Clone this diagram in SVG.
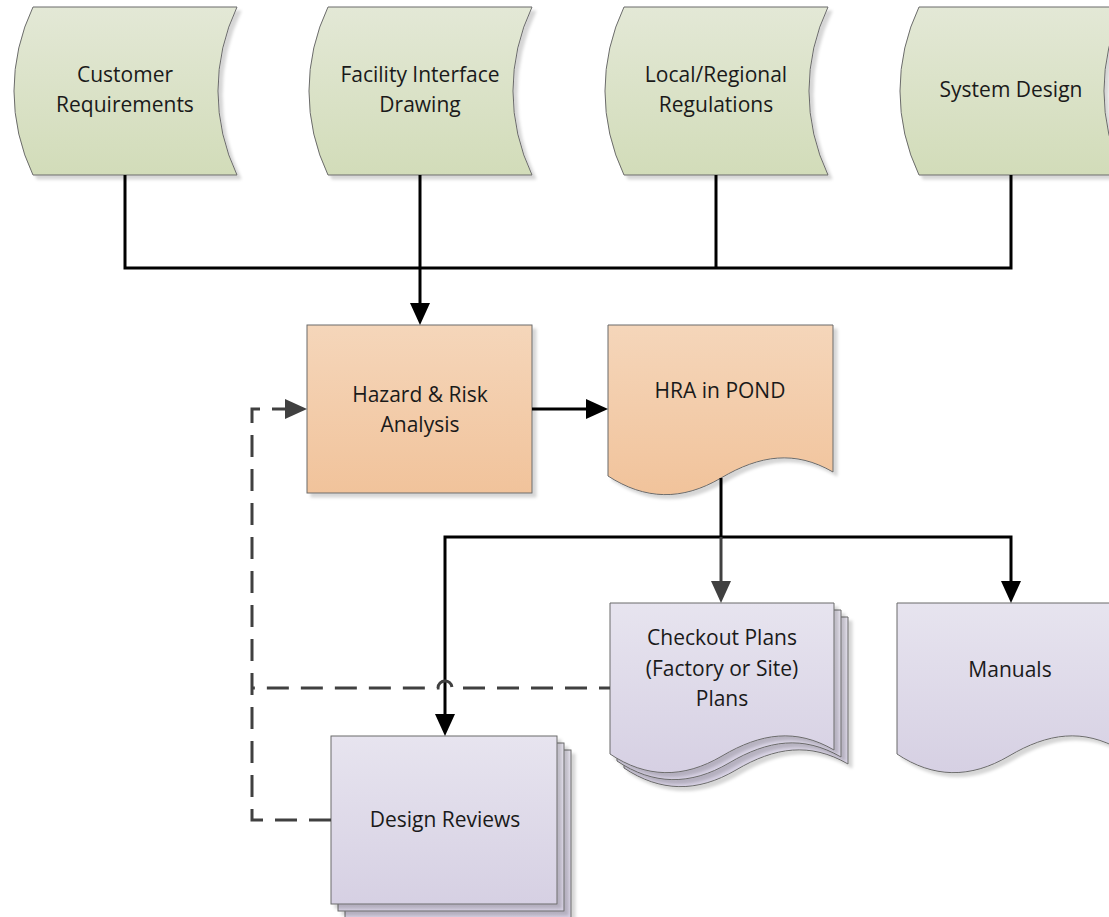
<svg xmlns="http://www.w3.org/2000/svg" width="1109" height="917" viewBox="0 0 1109 917">
  <defs>
    <linearGradient id="gGreen" x1="0" y1="0" x2="0" y2="1">
      <stop offset="0" stop-color="#e3e8d6"/>
      <stop offset="1" stop-color="#d2dcb9"/>
    </linearGradient>
    <linearGradient id="gOrange" x1="0" y1="0" x2="0" y2="1">
      <stop offset="0" stop-color="#f5d6ba"/>
      <stop offset="1" stop-color="#f1c39b"/>
    </linearGradient>
    <linearGradient id="gPurple" x1="0" y1="0" x2="0" y2="1">
      <stop offset="0" stop-color="#e7e4ef"/>
      <stop offset="1" stop-color="#d6d0e3"/>
    </linearGradient>
    <filter id="shadow" x="-10%" y="-10%" width="130%" height="130%">
      <feDropShadow dx="4" dy="4" stdDeviation="1.5" flood-color="#000" flood-opacity="0.16"/>
    </filter>
    <marker id="arrowBlack" markerUnits="userSpaceOnUse" markerWidth="22" markerHeight="20" viewBox="0 0 22 20" refX="16" refY="10" orient="auto">
      <path d="M0,0 L22,10 L0,20 Z" fill="#000"/>
    </marker>
    <marker id="arrowGray" markerUnits="userSpaceOnUse" markerWidth="22" markerHeight="20" viewBox="0 0 22 20" refX="16" refY="10" orient="auto">
      <path d="M0,0 L22,10 L0,20 Z" fill="#404040"/>
    </marker>
  </defs>
  <style>
    .shape { stroke: #6b6b6b; stroke-width: 1; filter: url(#shadow); }
    .green { fill: url(#gGreen); }
    .orange { fill: url(#gOrange); }
    .purple { fill: url(#gPurple); }
    .label { font-family: "Open Sans", "Liberation Sans", sans-serif; font-size: 21px; fill: #1a1a1a; text-anchor: middle; }
    .solid { fill: none; stroke: #000; stroke-width: 3; }
    .solidGray { fill: none; stroke: #404040; stroke-width: 3; }
    .dashed { fill: none; stroke: #404040; stroke-width: 3; stroke-dasharray: 22 12; }
  </style>

  <!-- input data sources -->
  <g id="customer-requirements">
    <path class="shape green" d="M33,7 H237 A195,195 0 0 0 237,175 H33 A195,195 0 0 1 33,7 Z"/>
    <text class="label" x="125" y="82">Customer</text>
    <text class="label" x="125" y="112">Requirements</text>
  </g>
  <g id="facility-interface-drawing">
    <path class="shape green" d="M328,7 H532 A195,195 0 0 0 532,175 H328 A195,195 0 0 1 328,7 Z"/>
    <text class="label" x="420" y="82">Facility Interface</text>
    <text class="label" x="420" y="112">Drawing</text>
  </g>
  <g id="local-regional-regulations">
    <path class="shape green" d="M624,7 H828 A195,195 0 0 0 828,175 H624 A195,195 0 0 1 624,7 Z"/>
    <text class="label" x="716" y="82">Local/Regional</text>
    <text class="label" x="716" y="112">Regulations</text>
  </g>
  <g id="system-design">
    <path class="shape green" d="M919,7 H1123 A195,195 0 0 0 1123,175 H919 A195,195 0 0 1 919,7 Z"/>
    <text class="label" x="1011" y="97">System Design</text>
  </g>

  <!-- analysis -->
  <g id="hazard-risk-analysis">
    <rect class="shape orange" x="307" y="325" width="225" height="168"/>
    <text class="label" x="420" y="402">Hazard &amp; Risk</text>
    <text class="label" x="420" y="432">Analysis</text>
  </g>
  <g id="hra-in-pond">
    <path class="shape orange" d="M608,325 H833 V472 C795,450 760,455 721,478 C682,501 645,500 608,476 Z"/>
    <text class="label" x="720" y="398">HRA in POND</text>
  </g>

  <!-- outputs -->
  <g id="checkout-plans">
    <path class="shape purple" d="M624,617 H848 V764 C810,742 775,747 736,770 C697,793 660,792 624,768 Z"/>
    <path class="shape purple" d="M617,610 H841 V757 C803,735 768,740 729,763 C690,786 653,785 617,761 Z"/>
    <path class="shape purple" d="M610,603 H834 V750 C796,728 761,733 722,756 C683,779 646,778 610,754 Z"/>
    <text class="label" x="722" y="645">Checkout Plans</text>
    <text class="label" x="722" y="676">(Factory or Site)</text>
    <text class="label" x="722" y="706">Plans</text>
  </g>
  <g id="manuals">
    <path class="shape purple" d="M897,603 H1121 V750 C1083,728 1048,733 1009,756 C970,779 933,778 897,754 Z"/>
    <text class="label" x="1010" y="677">Manuals</text>
  </g>
  <g id="design-reviews">
    <rect class="shape purple" x="345" y="750" width="226" height="168"/>
    <rect class="shape purple" x="338" y="743" width="226" height="168"/>
    <rect class="shape purple" x="331" y="736" width="226" height="168"/>
    <text class="label" x="445" y="827">Design Reviews</text>
  </g>

  <!-- connectors -->
  <g id="connectors">
    <path class="solid" d="M125,175 V268 H1011 V175"/>
    <path class="solid" d="M716,175 V268"/>
    <path class="solid" d="M420,175 V319" marker-end="url(#arrowBlack)"/>
    <path class="solid" d="M532,409 H602" marker-end="url(#arrowBlack)"/>
    <path class="solid" d="M721,478 V537 H445 V730" marker-end="url(#arrowBlack)"/>
    <path class="solid" d="M721,537 H1011 V597" marker-end="url(#arrowBlack)"/>
    <path class="solidGray" d="M721,537 V597" marker-end="url(#arrowGray)"/>
    <!-- line jump where the feedback line crosses the down connector -->
    <path class="dashed" stroke-dashoffset="11" d="M610,688 H452 A7,7 0 0 0 438,688 H252"/>
    <path class="dashed" d="M331,820 H252 V409 H301" marker-end="url(#arrowGray)"/>
  </g>
</svg>
